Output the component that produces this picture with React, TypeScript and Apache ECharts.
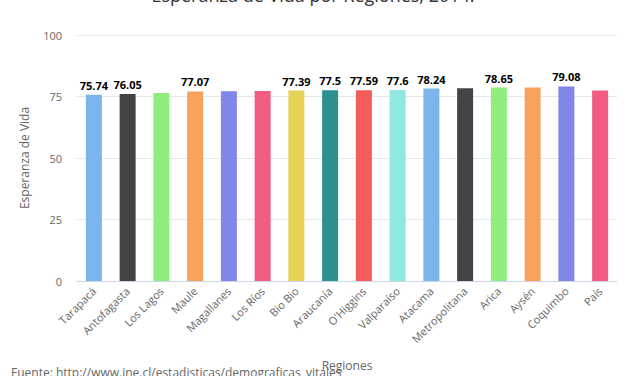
import React, { useEffect, useRef } from "react";
import * as echarts from "echarts";

const regions = [
  "Tarapacá", "Antofagasta", "Los Lagos", "Maule", "Magallanes", "Los Ríos", "Bio Bio", "Araucanía",
  "O'Higgins", "Valparaíso", "Atacama", "Metropolitana", "Arica", "Aysén", "Coquimbo", "País",
];
const lifeExpectancy = [75.74, 76.05, 76.4, 77.07, 77.1, 77.2, 77.39, 77.5, 77.59, 77.6, 78.24, 78.4, 78.65, 78.7, 79.08, 77.4];
const labelShown = [true, true, false, true, false, false, true, true, true, true, true, false, true, false, true, false];
const palette = ["#7cb5ec", "#434348", "#90ed7d", "#f7a35c", "#8085e9", "#f15c80", "#e4d354", "#2b908f", "#f45b5b", "#91e8e1"];
const yTicks = [0, 25, 50, 75, 100];

const FONT = "'Open Sans', sans-serif";

export default function App() {
  const ref = useRef<HTMLDivElement>(null);
  useEffect(() => {
    if (!ref.current) return;
    const chart = echarts.init(ref.current, null, { renderer: "svg" });
    chart.setOption({
      animation: false,
      textStyle: { fontFamily: FONT },
      grid: { left: 77, right: 10, top: 35, bottom: 93, containLabel: false },
      graphic: [
        {
          type: "text",
          x: 313,
          y: -14,
          style: { text: "Esperanza de Vida por Regiones, 2014.", fill: "#333333", font: `18px ${FONT}`, textAlign: "center" },
        },
        {
          type: "text",
          x: 11,
          y: 366,
          style: { text: "Fuente: http://www.ine.cl/estadisticas/demograficas_vitales", fill: "#666666", font: `12px ${FONT}` },
        },
      ],
      xAxis: {
        type: "category",
        data: regions,
        name: "Regiones",
        nameLocation: "middle",
        nameGap: 78,
        nameTextStyle: { color: "#666666", fontSize: 12, fontFamily: FONT },
        axisLine: { lineStyle: { color: "#ccd6eb" } },
        axisTick: { show: false },
        axisLabel: { rotate: 45, color: "#666666", fontSize: 11, fontFamily: FONT, margin: 8, interval: 0 },
      },
      yAxis: {
        type: "value",
        min: yTicks[0],
        max: yTicks[yTicks.length - 1],
        interval: 25,
        name: "Esperanza de Vida",
        nameLocation: "middle",
        nameGap: 47,
        nameTextStyle: { color: "#666666", fontSize: 12, fontFamily: FONT },
        axisLine: { show: false },
        axisTick: { show: false },
        axisLabel: { color: "#666666", fontSize: 11, fontFamily: FONT, margin: 15 },
        splitLine: { lineStyle: { color: "#e6e6e6" } },
      },
      series: [
        {
          type: "bar",
          barWidth: 16,
          data: lifeExpectancy.map((v, i) => ({
            value: v,
            itemStyle: { color: palette[i % palette.length] },
            label: { show: labelShown[i] },
          })),
          label: {
            position: "top",
            distance: 4,
            color: "#000000",
            fontSize: 11,
            fontWeight: "bold",
            fontFamily: FONT,
            textBorderColor: "#ffffff",
            textBorderWidth: 2,
          },
        },
      ],
    });
    return () => chart.dispose();
  }, []);
  return <div ref={ref} style={{ width: 627, height: 376, position: "absolute", left: 0, top: 0 }} />;
}
